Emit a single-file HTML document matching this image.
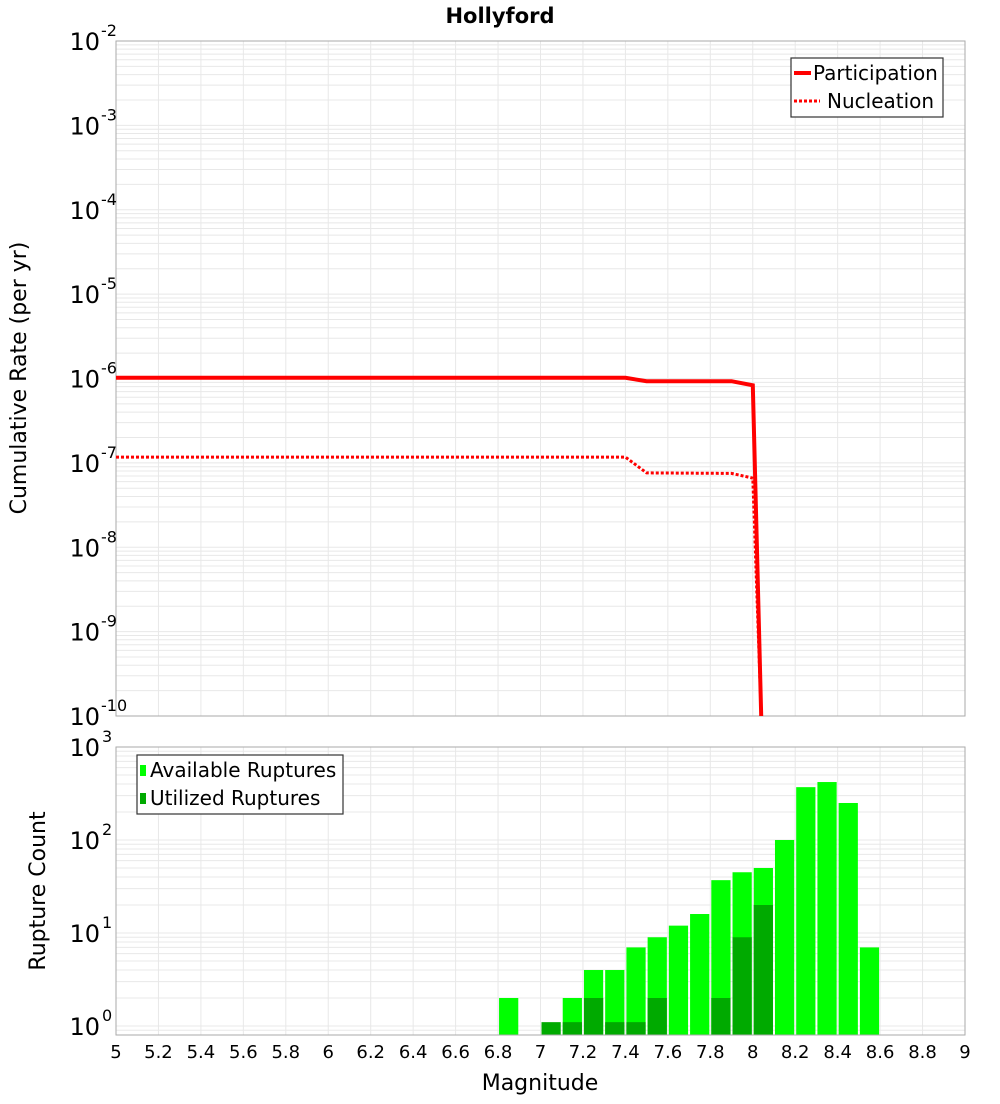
<!DOCTYPE html>
<html><head><meta charset="utf-8"><style>
body{margin:0;background:#fff;font-family:"DejaVu Sans","Liberation Sans",sans-serif;}
svg text{font-family:"DejaVu Sans","Liberation Sans",sans-serif;}
</style></head><body>
<svg id="chart" width="1000" height="1100" xmlns="http://www.w3.org/2000/svg">
<text x="500" y="23" text-anchor="middle" font-size="21" font-weight="bold">Hollyford</text>
<g id="topG"></g>
<g id="botG"></g>
<text transform="translate(26,378) rotate(-90)" text-anchor="middle" font-size="22">Cumulative Rate (per yr)</text>
<text transform="translate(45,891) rotate(-90)" text-anchor="middle" font-size="22">Rupture Count</text>
<text x="540" y="1090" text-anchor="middle" font-size="22">Magnitude</text>
<g id="legends"></g>
</svg>
<script>
const partMags=[5.0,7.4,7.5,7.9,8.0,8.04];
const partRates=[1.02e-6,1.02e-6,9.3e-7,9.3e-7,8.3e-7,1e-11];
const nuclMags=[5.0,7.4,7.5,7.9,8.0,8.04];
const nuclRates=[1.17e-7,1.17e-7,7.6e-8,7.5e-8,6.6e-8,1e-11];
const binMags=[6.85,7.05,7.15,7.25,7.35,7.45,7.55,7.65,7.75,7.85,7.95,8.05,8.15,8.25,8.35,8.45,8.55];
const availCounts=[2,0,2,4,4,7,9,12,16,37,45,50,100,370,420,250,7];
const usedCounts=[0,1.1,1.1,2,1.1,1.1,2,0,0,2,9,20,0,0,0,0,0];
const xTicks=[5,5.2,5.4,5.6,5.8,6,6.2,6.4,6.6,6.8,7,7.2,7.4,7.6,7.8,8,8.2,8.4,8.6,8.8,9];
const topExps=[-2,-3,-4,-5,-6,-7,-8,-9,-10];
const botExps=[3,2,1,0];
const NS="http://www.w3.org/2000/svg";
const L=116,R=965,T1=41,B1=716,T2=747,B2=1035;
const xs=m=>L+(m-5)/4*(R-L);
const y1=v=>T1+(-2-Math.log10(v))*(B1-T1)/8;
const y2=v=>T2+(3-Math.log10(v))*93;
function mk(p,t,a){const e=document.createElementNS(NS,t);for(const k in a)e.setAttribute(k,a[k]);p.appendChild(e);return e;}
const topG=document.getElementById('topG'),botG=document.getElementById('botG');
function grid(g,T,B,yf,e0,e1){
  for(let e=e0;e<e1;e++)for(let k=1;k<10;k++){const yy=yf(k*Math.pow(10,e));if(yy>=T&&yy<=B)mk(g,'line',{x1:L,x2:R,y1:yy,y2:yy,stroke:'#e8e8e8','stroke-width':1});}
  for(let i=1;i<20;i++){const m=5+i*0.2;mk(g,'line',{x1:xs(m),x2:xs(m),y1:T,y2:B,stroke:'#e8e8e8','stroke-width':1});}
}
grid(topG,T1,B1,y1,-10,-2);
mk(topG,'rect',{x:L,y:T1,width:R-L,height:B1-T1,fill:'none',stroke:'#aaa'});
topExps.forEach(e=>{const yy=y1(Math.pow(10,e));const t=mk(topG,'text',{x:100,y:yy+9,'text-anchor':'end','font-size':24});


t.textContent='10';const s=mk(topG,'text',{x:101,y:yy-5,'font-size':16});s.textContent=String(e);});
function path(ms,vs){return ms.map((m,i)=>(i?'L':'M')+xs(m).toFixed(1)+','+Math.min(y1(vs[i]),B1).toFixed(1)).join('');}
const pl=mk(topG,'path',{d:path(partMags,partRates),fill:'none',stroke:'#f00','stroke-width':4});


const nl=mk(topG,'path',{d:path(nuclMags,nuclRates),fill:'none',stroke:'#f00','stroke-width':3,'stroke-dasharray':'3,2'});


grid(botG,T2,B2,y2,-1,3);
const bw=(xs(5.1)-xs(5))-2;
binMags.forEach((m,i)=>{
  if(availCounts[i]>0){const r=mk(botG,'rect',{x:xs(m-0.05)+1,y:y2(availCounts[i]),width:bw,height:B2-y2(availCounts[i]),fill:'#00ff00'});
  
  }
  if(usedCounts[i]>0){const r=mk(botG,'rect',{x:xs(m-0.05)+1,y:y2(usedCounts[i]),width:bw,height:B2-y2(usedCounts[i]),fill:'#00aa00'});
  
  }
});
mk(botG,'rect',{x:L,y:T2,width:R-L,height:B2-T2,fill:'none',stroke:'#aaa'});
botExps.forEach(e=>{const yy=y2(Math.pow(10,e));const t=mk(botG,'text',{x:100,y:yy+9,'text-anchor':'end','font-size':24});


t.textContent='10';const s=mk(botG,'text',{x:102,y:yy-5,'font-size':16});s.textContent=String(e);});
xTicks.forEach(m=>{const t=mk(botG,'text',{x:xs(m),y:1058,'text-anchor':'middle','font-size':18});


t.textContent=String(m);});
// legends drawn last so they sit on top
const lg=document.getElementById('legends');
lg.innerHTML='<g><rect x="791" y="58" width="152" height="59" fill="#fff" stroke="#333" stroke-width="1.2"/><line x1="794" y1="73" x2="811" y2="73" stroke="#f00" stroke-width="4"/><text x="813" y="80" font-size="20">Participation</text><line x1="794" y1="101" x2="820" y2="101" stroke="#f00" stroke-width="3" stroke-dasharray="3,2"/><text x="827" y="108" font-size="20">Nucleation</text></g><g><rect x="137" y="755" width="206" height="59" fill="#fff" stroke="#333" stroke-width="1.2"/><rect x="140" y="765" width="6" height="11" fill="#00ff00"/><text x="150" y="777" font-size="20">Available Ruptures</text><rect x="140" y="793" width="6" height="11" fill="#00aa00"/><text x="150" y="805" font-size="20">Utilized Ruptures</text></g>';
</script>
</body></html>
